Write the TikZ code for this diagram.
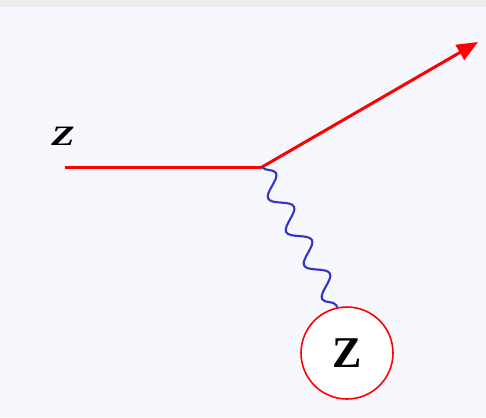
\documentclass[tikz,border=0pt]{standalone}
\usepackage{fontspec}
\setmainfont{Liberation Serif}
\usetikzlibrary{arrows.meta,decorations.pathmorphing}
\definecolor{paper}{HTML}{F7F7FE}
\definecolor{strip}{HTML}{EDEDED}
\definecolor{elec}{HTML}{FF0000}
\definecolor{phot}{HTML}{3434CC}

\begin{document}
\begin{tikzpicture}[x=0.02cm,y=-0.02cm,
    lepton/.style={draw=elec, line width=1.7pt},
    photon/.style={draw=phot, line width=1.2pt, decorate, decoration={snake, amplitude=0.19cm, segment length=0.76cm}},
    nucleus/.style={circle, draw=elec, line width=0.9pt, fill=white, minimum size=1.84cm, inner sep=0pt, font=\fontsize{25}{30}\selectfont\bfseries},
    tag/.style={font=\fontsize{16}{19}\selectfont\bfseries\itshape}]
  \fill[paper] (0,0) rectangle (486,417);
  \fill[strip] (0,0) rectangle (486,7);
  \node[tag] (zin) at (63,136) {\scalebox{1.35}[1]{Z}};
  \coordinate (inp) at (65,167);
  \coordinate (vtx) at (262,167);
  \coordinate (outp) at (478,42);
  \node[nucleus] (nuc) at (347,353) {Z};
  \draw[lepton] (inp) -- (vtx);
  \draw[lepton,-{Triangle[length=0.42cm,width=0.34cm]}] (vtx) -- (outp);
  \draw[photon] (vtx) -- (nuc.102);
\end{tikzpicture}
\end{document}
